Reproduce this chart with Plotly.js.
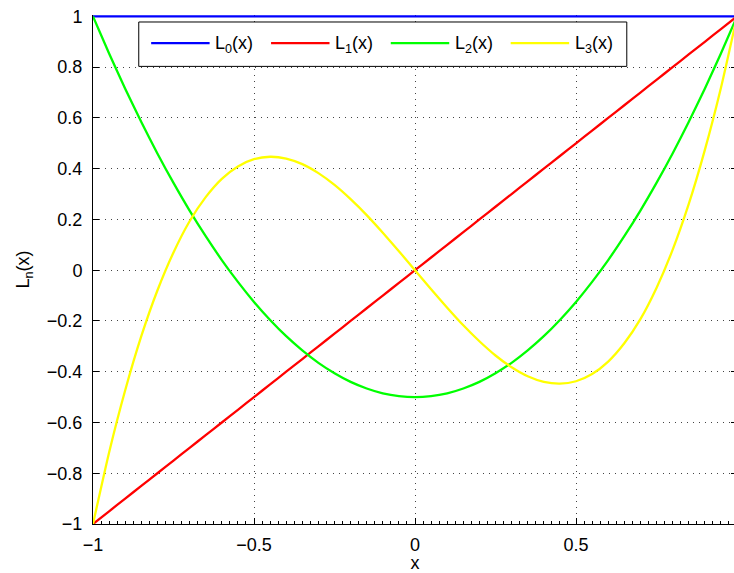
<!DOCTYPE html>
<html>
<head>
<meta charset="utf-8">
<script src="https://cdn.plot.ly/plotly-3.0.1.min.js"></script>
<style>
html,body{margin:0;padding:0;overflow:hidden;background:#fff;}
#chart{width:740px;height:573px;}
</style>
</head>
<body>
<div id="chart"></div>
<script>
// Values
const xs = [-1,-0.95,-0.9,-0.85,-0.8,-0.75,-0.7,-0.65,-0.6,-0.55,-0.5,-0.45,-0.4,-0.35,-0.3,-0.25,-0.2,-0.15,-0.1,-0.05,
  0,0.05,0.1,0.15,0.2,0.25,0.3,0.35,0.4,0.45,0.5,0.55,0.6,0.65,0.7,0.75,0.8,0.85,0.9,0.95,1];
const L0 = [1,1,1,1,1,1,1,1,1,1,1,1,1,1,1,1,1,1,1,1,1,1,1,1,1,1,1,1,1,1,1,1,1,1,1,1,1,1,1,1,1];
const L1 = [-1,-0.95,-0.9,-0.85,-0.8,-0.75,-0.7,-0.65,-0.6,-0.55,-0.5,-0.45,-0.4,-0.35,-0.3,-0.25,-0.2,-0.15,-0.1,-0.05,
  0,0.05,0.1,0.15,0.2,0.25,0.3,0.35,0.4,0.45,0.5,0.55,0.6,0.65,0.7,0.75,0.8,0.85,0.9,0.95,1];
const L2 = [1,0.854,0.715,0.584,0.46,0.344,0.235,0.134,0.04,-0.046,-0.125,-0.196,-0.26,-0.316,-0.365,-0.406,-0.44,-0.466,-0.485,-0.496,
  -0.5,-0.496,-0.485,-0.466,-0.44,-0.406,-0.365,-0.316,-0.26,-0.196,-0.125,-0.046,0.04,0.134,0.235,0.344,0.46,0.584,0.715,0.854,1];
const L3 = [-1,-0.718,-0.473,-0.26,-0.08,0.07,0.193,0.288,0.36,0.409,0.4375,0.447,0.44,0.418,0.3825,0.336,0.28,0.217,0.1475,0.075,
  0,-0.075,-0.1475,-0.217,-0.28,-0.336,-0.3825,-0.418,-0.44,-0.447,-0.4375,-0.409,-0.36,-0.288,-0.193,-0.07,0.08,0.26,0.473,0.718,1];
const names = ['L<sub>0</sub>(x)','L<sub>1</sub>(x)','L<sub>2</sub>(x)','L<sub>3</sub>(x)'];
const colors = ['#0000ff','#ff0000','#00ff00','#ffff00'];
const xTicks = [-1,-0.5,0,0.5,1];
const yTicks = [-1,-0.8,-0.6,-0.4,-0.2,0,0.2,0.4,0.6,0.8,1];

const series = [L0,L1,L2,L3];
const traces = series.map((ys,i)=>({
  x: xs, y: ys, type:'scatter', mode:'lines', name:names[i],
  line:{color:colors[i], width:2.3, shape:'spline', smoothing:0.6},
  showlegend:false, cliponaxis:false
}));
const FONT = 'Liberation Sans, Arial, Helvetica, sans-serif';
const FS = 18;

// plot area in px (top padded a little so the y=1 line is not clipped)
const W = 740, H = 573, L = 92.5, R = 737, T = 15.3, B = 524.5;
const yTop = 1 + 2 * 1.4 / (B - T - 1.4);
const Y1px = 16.7;
const px = v => (v - L) / (R - L);
const py = v => (B - v) / (B - T);

// custom legend (MATLAB style)
const shapes = [{
  type:'rect', xref:'paper', yref:'paper',
  x0:px(138.3), x1:px(626.7), y0:py(66.7), y1:py(22.3),
  line:{color:'#000', width:1}, fillcolor:'#fff', layer:'above'
}];
const annotations = [];
const legX = [150.7, 270.7, 390.5, 510.5];
const legY = 43.5;
names.forEach((n,i)=>{
  shapes.push({type:'line', xref:'paper', yref:'paper', x0:px(legX[i]), x1:px(legX[i]+58.5),
    y0:py(legY), y1:py(legY), line:{color:colors[i], width:2.3}, layer:'above'});
  annotations.push({xref:'paper', yref:'paper', x:px(legX[i]+62), y:py(legY+1.5), text:n,
    showarrow:false, xanchor:'left', yanchor:'middle', font:{family:FONT, size:FS, color:'#000'}});
});

const axisCommon = {
  showline:true, linecolor:'#000', linewidth:1, layer:'below traces',
  ticks:'inside', ticklen:6, tickcolor:'#000', tickwidth:1,
  showgrid:true, gridcolor:'#444', gridwidth:1, griddash:'1px,5px',
  zeroline:false, tickfont:{family:FONT, size:FS, color:'#000'},
  fixedrange:true
};

const layout = {
  width:W, height:H,
  margin:{l:L, r:W-R, t:T, b:H-B, pad:0},
  paper_bgcolor:'#fff', plot_bgcolor:'#fff',
  showlegend:false,
  font:{family:FONT, size:FS, color:'#000'},
  xaxis:Object.assign({}, axisCommon, {
    range:[-1,1], tickvals:xTicks, ticklabelstandoff:4, mirror:false,
    minor:{ticks:'inside', ticklen:3, dtick:0.025, tickcolor:'#000', showgrid:false},
    title:{text:'x', font:{family:FONT, size:FS}, standoff:10}
  }),
  yaxis:Object.assign({}, axisCommon, {
    range:[-1,yTop], tickvals:yTicks, ticklabelstandoff:6, mirror:'ticks',
    title:{text:'L<sub>n</sub>(x)', font:{family:FONT, size:FS}, standoff:12}
  }),
  shapes:shapes, annotations:annotations
};

Plotly.newPlot('chart', traces, layout, {displayModeBar:false, staticPlot:true});
</script>
</body>
</html>
